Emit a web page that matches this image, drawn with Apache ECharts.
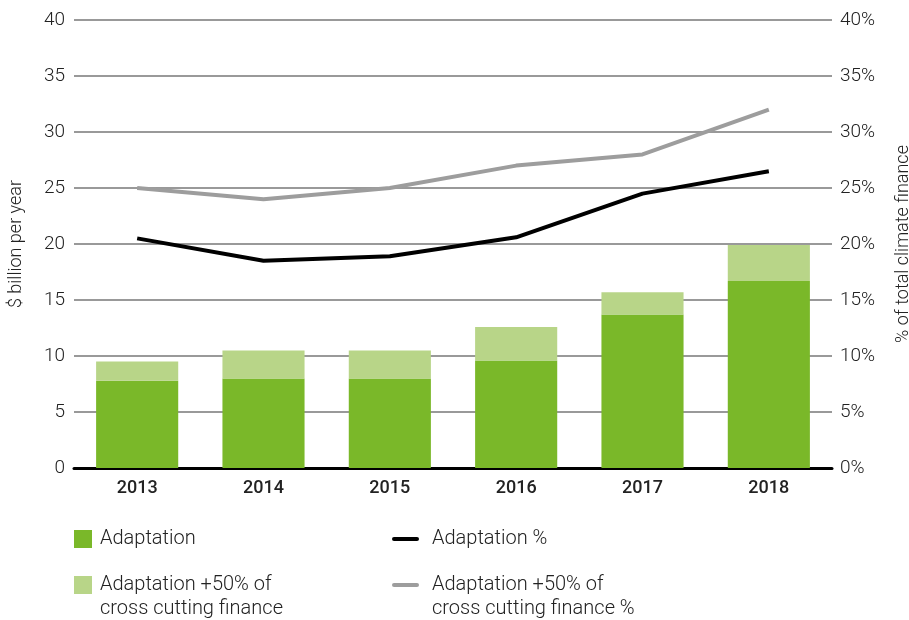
<!DOCTYPE html>
<html><head><meta charset="utf-8">
<script src="https://cdn.jsdelivr.net/npm/echarts@6/dist/echarts.min.js"></script>
<style>html,body{margin:0;padding:0;background:#fff}#c{width:909px;height:620px}</style>
</head><body><div id="c"></div>
<script>
const years = ['2013','2014','2015','2016','2017','2018'];
const adaptation = [7.8, 8.0, 8.0, 9.6, 13.7, 16.7];
const adaptationPlus = [9.5, 10.5, 10.5, 12.6, 15.7, 19.9];
const adaptationPct = [20.5, 18.5, 18.9, 20.6, 24.5, 26.5];
const adaptationPlusPct = [25.0, 24.0, 25.0, 27.0, 28.0, 32.0];
const seriesNames = ['Adaptation', 'Adaptation +50% of\ncross cutting finance', 'Adaptation %', 'Adaptation +50% of\ncross cutting finance %'];
const colors = ['#7ab829', '#b8d588', '#000000', '#9d9d9d'];

const crossCut = adaptationPlus.map((v, i) => +(v - adaptation[i]).toFixed(2));
const FONT = 'Roboto';
const chart = echarts.init(document.getElementById('c'), null, {renderer: 'canvas'});
const lbl = {fontFamily: FONT, fontSize: 19, fontWeight: 300, color: '#222'};

function legendItem(i, x, y, isLine) {
  const icon = isLine
    ? {type: 'rect', left: x, top: y + 7, shape: {width: 27, height: 4, r: 2}, style: {fill: colors[i]}}
    : {type: 'rect', left: x, top: y, shape: {width: 18, height: 18}, style: {fill: colors[i]}};
  const text = {type: 'text', left: isLine ? x + 40 : x + 26, top: y - 3,
    style: {text: seriesNames[i], fontFamily: FONT, fontSize: 20, fontWeight: 300, fill: '#222', lineHeight: 24}};
  return [icon, text];
}

chart.setOption({
  animation: false,
  grid: {left: 74, right: 77, top: 20, bottom: 152, containLabel: false, outerBoundsMode: 'none'},
  xAxis: {
    type: 'category', data: years,
    axisLine: {lineStyle: {color: '#000', width: 3}},
    axisTick: {show: false},
    axisLabel: {fontFamily: FONT, fontSize: 18, fontWeight: 500, color: '#222', margin: 11}
  },
  yAxis: [{
    type: 'value', min: 0, max: 40, interval: 5,
    name: '$ billion per year', nameLocation: 'middle', nameGap: 49, nameRotate: 90,
    nameTextStyle: {fontFamily: FONT, fontSize: 18, fontWeight: 300, color: '#222'},
    axisLine: {show: false}, axisTick: {show: false},
    axisLabel: Object.assign({margin: 9}, lbl),
    splitLine: {lineStyle: {color: '#777', width: 1.5}}
  }, {
    type: 'value', min: 0, max: 40, interval: 5,
    name: '% of total climate finance', nameLocation: 'middle', nameGap: 62, nameRotate: 90,
    nameTextStyle: {fontFamily: FONT, fontSize: 18, fontWeight: 300, color: '#222'},
    axisLine: {show: false}, axisTick: {show: false},
    axisLabel: Object.assign({margin: 8, formatter: '{value}%'}, lbl),
    splitLine: {show: false}
  }],
  graphic: [].concat(
    legendItem(0, 74, 530, false),
    legendItem(1, 74, 576, false),
    legendItem(2, 392, 530, true),
    legendItem(3, 392, 576, true)
  ),
  series: [
    {name: seriesNames[0], type: 'bar', stack: 's', data: adaptation, barWidth: '65%', itemStyle: {color: colors[0]}},
    {name: seriesNames[1], type: 'bar', stack: 's', data: crossCut, itemStyle: {color: colors[1]}},
    {name: seriesNames[2], type: 'line', yAxisIndex: 1, data: adaptationPct, symbol: 'none', lineStyle: {color: colors[2], width: 4}, itemStyle: {color: colors[2]}},
    {name: seriesNames[3], type: 'line', yAxisIndex: 1, data: adaptationPlusPct, symbol: 'none', lineStyle: {color: colors[3], width: 4}, itemStyle: {color: colors[3]}}
  ]
});
</script></body></html>
